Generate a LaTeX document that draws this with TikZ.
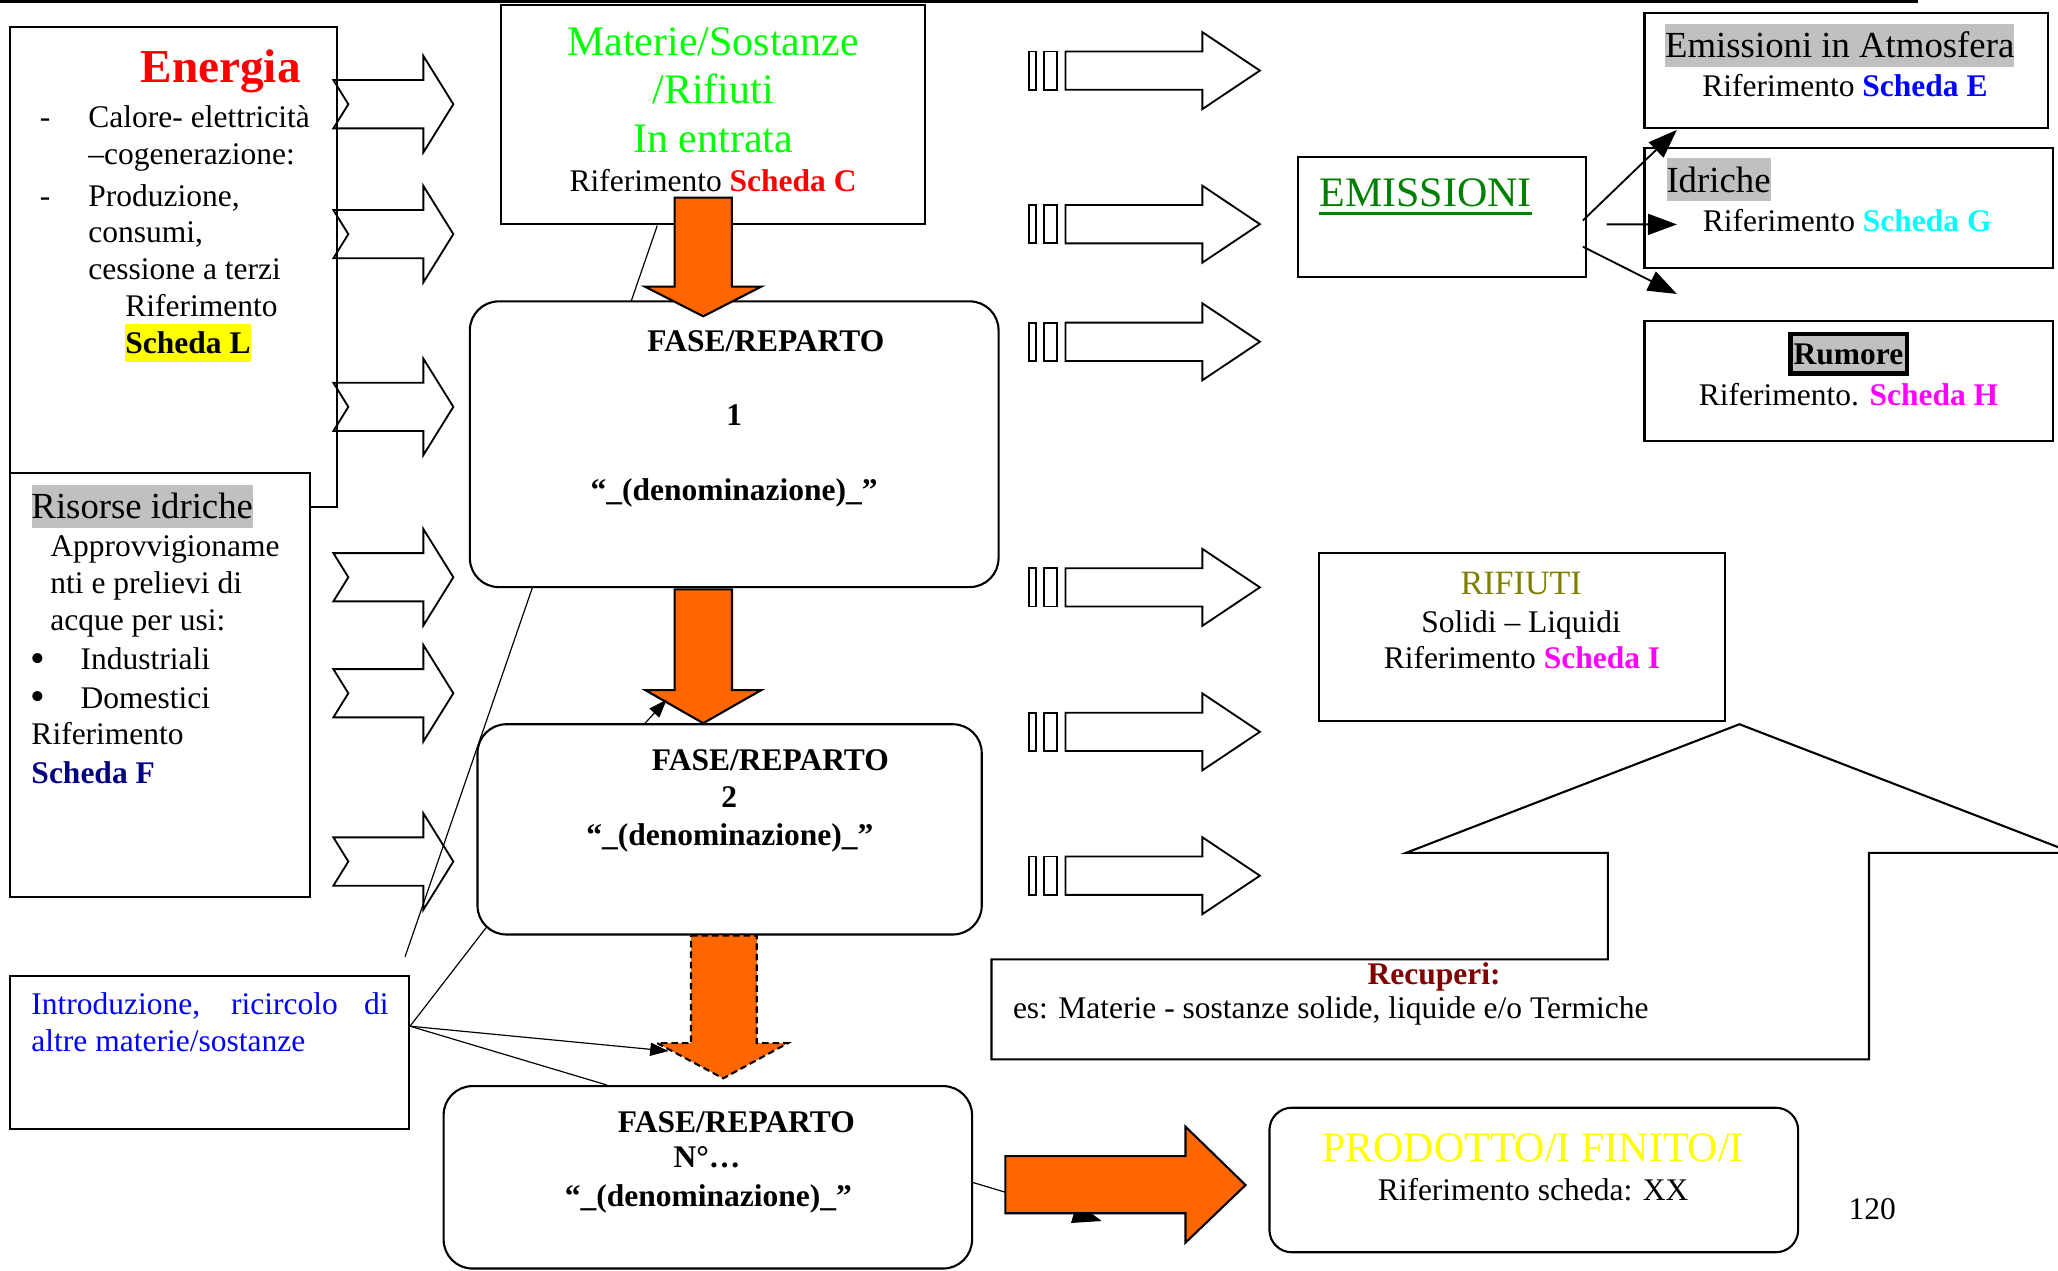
\documentclass[tikz,border=0pt]{standalone}
\usepackage{fontspec}
\setmainfont{Liberation Serif}
\usepackage{xcolor}
\usetikzlibrary{arrows.meta,positioning,calc,fit,backgrounds}
\definecolor{flowOrange}{RGB}{255,102,0}
\definecolor{hlGrey}{RGB}{192,192,192}
\definecolor{matGreen}{RGB}{0,255,0}
\definecolor{emiGreen}{RGB}{0,128,0}
\definecolor{rifOlive}{RGB}{128,128,0}
\definecolor{recRed}{RGB}{128,0,0}
\definecolor{navyF}{RGB}{0,0,128}
\definecolor{schedaCyan}{RGB}{0,255,255}
\definecolor{schedaMagenta}{RGB}{255,0,255}
\definecolor{hlYellow}{RGB}{255,255,0}

\begin{document}
\begin{tikzpicture}[
  x=0.5pt, y=-0.5pt,
  plainbox/.style={draw, line width=0.8pt, fill=white, inner sep=0pt},
  phasebox/.style={plainbox, rounded corners=11pt},
  bodytxt/.style={inner sep=0pt, font=\fontsize{12}{14}\selectfont},
  boldtxt/.style={inner sep=0pt, font=\fontsize{12}{14}\selectfont\bfseries},
  midtxt/.style={inner sep=0pt, font=\fontsize{14}{16}\selectfont},
  largetxt/.style={inner sep=0pt, font=\fontsize{16}{18}\selectfont},
  hollowarrow/.style={draw, line width=0.7pt, line join=miter},
  flowarrow/.style={draw, line width=0.8pt, fill=flowOrange, line join=miter},
  wire/.style={line width=0.45pt},
  pointer/.style={line width=0.7pt, -{Triangle[length=11pt,width=8pt]}},
  smallpointer/.style={wire, -{Triangle[length=7pt,width=5pt]}}
]
\useasboundingbox (0,0) rectangle (1568,968);
\clip (0,0) rectangle (1568,968);

% Top rule
\draw[line width=1.3pt] (0,1.2) -- (1461,1.2);

% Left boxes
\node[plainbox, fit={(7.6,20.6)(256.8,386.3)}] (energia) {};
\node[plainbox, fit={(7.6,360.4)(236.2,683.4)}] (risorse) {};
\node[plainbox, fit={(7.6,743.6)(311.6,860.4)}] (intro) {};

% Central column
\node[plainbox, fit={(382,3.6)(704.5,171)}] (mat) {};
\node[phasebox, fit={(358,229.6)(760.8,447.3)}] (fase1) {};
\node[phasebox, fit={(363.8,551.8)(748,712)}] (fase2) {};
\node[phasebox, fit={(338,827.5)(740.6,966.5)}] (fasen) {};

% Right column
\node[plainbox, fit={(1252.9,10.2)(1560.3,97.8)}] (atmo) {};
\node[plainbox, fit={(1252.9,112.5)(1563.9,204)}] (idri) {};
\node[plainbox, fit={(1252.9,244.3)(1563.9,335.8)}] (rumo) {};
\node[plainbox, fit={(989,119.4)(1208.2,211.3)}] (emis) {};
\node[plainbox, fit={(1004.6,421.3)(1314.6,549.4)}] (rifi) {};
\node[phasebox, rounded corners=8.5pt, fit={(967.2,844)(1370,954.1)}] (prod) {};

% Recuperi arrow
\draw[plainbox] (1325.3,551.8) -- (1579.4,649.8) -- (1424,649.8) -- (1424,807.1)
  -- (755.4,807.1) -- (755.4,730.9) -- (1225,730.9) -- (1225,649.8)
  -- (1071.2,649.8) -- cycle;

% Hollow input arrows
\foreach \cy in {79.4,178.4,310,439.8,528.2,656.4}
  \draw[hollowarrow] (254,\cy-18.4) -- (322.6,\cy-18.4) -- (322.6,\cy-36.7) -- (345.4,\cy)
    -- (322.6,\cy+36.7) -- (322.6,\cy+18.4) -- (254,\cy+18.4) -- (265.4,\cy) -- cycle;

% Hollow output arrows
\foreach \cy in {53.8,170.8,260.4,447.5,557.6,667.2} {
  \draw[hollowarrow] (784,\cy-14.6) rectangle (789.2,\cy+14.6);
  \draw[hollowarrow] (795.3,\cy-14.6) rectangle (805.6,\cy+14.6);
  \draw[hollowarrow] (811.8,\cy-14.6) -- (916.1,\cy-14.6) -- (916.1,\cy-29.3) -- (959.9,\cy)
    -- (916.1,\cy+29.3) -- (916.1,\cy+14.6) -- (811.8,\cy+14.6) -- cycle;
}

% Thin connectors
\coordinate (loose) at (308.6,729);
\coordinate (ihub) at ($(intro.north east)!0.33!(intro.south east)$);
\coordinate (introtip) at (509.4,800.8);
\coordinate (fasetip) at (508,533);
\coordinate (prodtip) at (839.4,930.3);
\coordinate (tipE) at (1277.6,99);
\coordinate (tipG) at (1277.6,171);
\coordinate (tipH) at (1277.6,224);
\begin{scope}[on background layer]
  \draw[wire] ($(mat.south west)!0.369!(mat.south east)$) -- (loose);
  \draw[wire] (ihub) -- ($(fase2.south west)+(12,-12)$);
\end{scope}
\draw[wire] (ihub) -- ($(fasen.north west)!0.31!(fasen.north east)$);
\draw[smallpointer] (ihub) -- (introtip);
\draw[wire, -{Triangle[length=11pt,width=8pt]}] ($(fasen.east)+(0,4)$) -- (prodtip);

\draw[pointer] ($(emis.east)+(-3,2.6)$) -- (tipE);
\draw[pointer] ($(emis.east)+(15,5.6)$) -- (tipG);
\draw[pointer] ($(emis.east)+(-3,22.6)$) -- (tipH);

% Orange flow arrows
\draw[flowarrow] (514,150.6) -- (557.6,150.6) -- (557.6,218.4) -- (580,218.4)
  -- (535.8,241) -- (491.4,218.4) -- (514,218.4) -- cycle;
\draw[flowarrow] (514,449) -- (557.7,449) -- (557.7,525.8) -- (580,525.8)
  -- (535.8,551) -- (491.7,525.8) -- (514,525.8) -- cycle;
\draw[flowarrow, dash pattern=on 2.5pt off 1.5pt] (526.5,712.8) -- (576.6,712.8)
  -- (576.6,794.7) -- (600.4,794.7) -- (551,821.6) -- (500.6,794.7) -- (526.5,794.7) -- cycle;
\draw[flowarrow] (766,880.8) -- (903.2,880.8) -- (903.2,858.4) -- (949,902.9)
  -- (903.2,946.8) -- (903.2,924.4) -- (766,924.4) -- cycle;
\draw[smallpointer] ($(fase2.north west)!0.333!(fase2.north east)$) -- (fasetip);

% Energia
\node[inner sep=0pt, anchor=base west, font=\fontsize{18}{20}\selectfont\bfseries, text=red]
  (entitle) at (106.7,62.5) {Energia};
\node[bodytxt, anchor=base west] (dash1) at (30,97.5) {-};
\node[bodytxt, anchor=base west] (dash2) at (30,157.7) {-};
\foreach \yy/\ln [count=\i] in {97.5/{Calore- elettricità}, 125.7/{–cogenerazione:},
    157.7/{Produzione,}, 185/{consumi,}, 213.3/{cessione a terzi}}
  \node[bodytxt, anchor=base west] (enl\i) at (67,\yy) {\ln};
\node[bodytxt, anchor=base west] (enref) at (95.2,241.5) {Riferimento};
\node[boldtxt, anchor=base west, fill=hlYellow, text height=11pt, text depth=3.4pt]
  (enscheda) at (95.2,269) {Scheda L};

% Risorse idriche
\node[midtxt, anchor=base west, fill=hlGrey, text height=12.6pt, text depth=3.8pt]
  (ristitle) at (23.6,394.7) {Risorse idriche};
\foreach \yy/\ln [count=\i] in {424/Approvvigioname, 452/{nti e prelievi di}, 480/{acque per usi:}}
  \node[bodytxt, anchor=base west] (risl\i) at (38,\yy) {\ln};
\foreach \yy/\ln [count=\i] in {510/Industriali, 539.6/Domestici} {
  \node[inner sep=0pt, font=\fontsize{16}{16}\selectfont] (bul\i) at (29,\yy-5.2) {\textbullet};
  \node[bodytxt, anchor=base west] (use\i) at (61,\yy) {\ln};
}
\node[bodytxt, anchor=base west] (risref) at (23.6,567.6) {Riferimento};
\node[boldtxt, anchor=base west, text=navyF] (risscheda) at (23.6,596.6) {Scheda F};

% Introduzione
\node[bodytxt, anchor=base west, text=blue] (intl1) at (23.6,773.3)
  {\makebox[136pt][s]{Introduzione, ricircolo di}};
\node[bodytxt, anchor=base west, text=blue] (intl2) at (23.6,801.5) {altre materie/sostanze};

% Materie
\node[largetxt, anchor=base, text=matGreen] (matl1) at (543.3,42.2) {Materie/Sostanze};
\node[largetxt, anchor=base, text=matGreen] (matl2) at (543.3,79) {/Rifiuti};
\node[largetxt, anchor=base, text=matGreen] (matl3) at (543.3,116) {In entrata};
\node[bodytxt, anchor=base] (matref) at (543.3,146) {Riferimento \textcolor{red}{\bfseries Scheda C}};

% Phases
\node[boldtxt, anchor=base] (f1a) at (583.5,268) {FASE/REPARTO};
\node[boldtxt, anchor=base] (f1b) at (559.5,323.9) {1};
\node[boldtxt, anchor=base] (f1c) at (559.4,381) {“\_(denominazione)\_”};
\node[boldtxt, anchor=base] (f2a) at (587,587.4) {FASE/REPARTO};
\node[boldtxt, anchor=base] (f2b) at (555.6,614.9) {2};
\node[boldtxt, anchor=base] (f2c) at (556,644.3) {“\_(denominazione)\_”};
\node[boldtxt, anchor=base] (fna) at (561,862.7) {FASE/REPARTO};
\node[boldtxt, anchor=base] (fnb) at (538.7,889.7) {N°…};
\node[boldtxt, anchor=base] (fnc) at (539.7,919) {“\_(denominazione)\_”};

% Emissioni
\node[midtxt, anchor=base west, fill=hlGrey, text height=12.7pt, text depth=3.55pt]
  (atmotitle) at (1268.3,43.7) {Emissioni in Atmosfera};
\node[bodytxt, anchor=base west] (atmoref) at (1296.6,73.7) {Riferimento \textcolor{blue}{\bfseries Scheda E}};
\node[midtxt, anchor=base west, fill=hlGrey, text height=13.1pt, text depth=3.05pt]
  (idrititle) at (1269.3,146.8) {Idriche};
\node[bodytxt, anchor=base west] (idriref) at (1297,176.5) {Riferimento \textcolor{schedaCyan}{\bfseries Scheda G}};
\node[boldtxt, draw, line width=1.6pt, fill=hlGrey, inner xsep=1.25pt, inner ysep=0pt,
  text height=11.85pt, text depth=3.3pt, anchor=base] (rumtitle) at (1408.4,278) {Rumore};
\node[bodytxt, anchor=base west] (rumref) at (1294,309.3) {Riferimento. \textcolor{schedaMagenta}{\bfseries Scheda H}};
\node[largetxt, anchor=base west, text=emiGreen] (emititle) at (1005,157.5) {EMISSIONI};
\draw[emiGreen, line width=1pt] ($(emititle.base west)+(0,5)$) -- ($(emititle.base east)+(0,5)$);

% Rifiuti and Recuperi
\node[inner sep=0pt, font=\fontsize{13}{15}\selectfont, anchor=base, text=rifOlive]
  (rifititle) at (1159,453.3) {RIFIUTI};
\node[bodytxt, anchor=base] (rifil2) at (1159,481.9) {Solidi – Liquidi};
\node[bodytxt, anchor=base] (rifiref) at (1159.6,509.1) {Riferimento \textcolor{schedaMagenta}{\bfseries Scheda I}};
\node[boldtxt, anchor=base, text=recRed] (rectitle) at (1092.6,750) {Recuperi:};
\node[bodytxt, anchor=base west] (recl) at (771.4,775.8) {es: Materie - sostanze solide, liquide e/o Termiche};

% Prodotto
\node[largetxt, anchor=base, text=hlYellow] (prodtitle) at (1168,885) {PRODOTTO/I FINITO/I};
\node[bodytxt, anchor=base] (prodref) at (1168,914.3) {Riferimento scheda: XX};
\node[bodytxt, anchor=base west] (pagenum) at (1408,929.5) {120};

\end{tikzpicture}
\end{document}
